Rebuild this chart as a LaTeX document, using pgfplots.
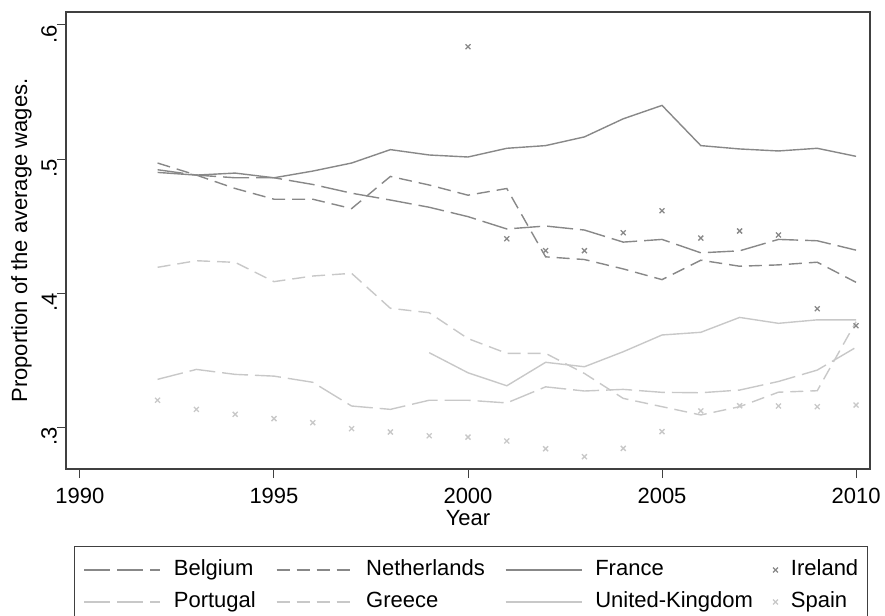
\documentclass[border=0pt]{standalone}
\usepackage{fontspec}
\setmainfont{Liberation Sans}
\usepackage{pgfplots}
\pgfplotsset{compat=1.18}

\definecolor{darkg}{RGB}{136,136,136}
\definecolor{lightg}{RGB}{200,200,200}
\definecolor{framec}{RGB}{64,64,64}

\pgfplotsset{
  lineleg/.style={legend image code/.code={\draw[##1] (0pt,0pt) -- (76pt,0pt);}},
  markleg/.style={legend image code/.code={\draw[##1] plot coordinates {(0pt,0pt)};}},
}

\pgfplotstableread{
year  bel    ned    fra    por    gre    spa
1992  0.492  0.497  0.490  0.3356 0.4192 0.320
1993  0.488  0.488  0.488  0.343  0.4241 0.3132
1994  0.486  0.478  0.4895 0.3393 0.4229 0.3095
1995  0.486  0.470  0.486  0.338  0.4085 0.3063
1996  0.481  0.470  0.491  0.3334 0.4127 0.3033
1997  0.4745 0.463  0.497  0.3157 0.4147 0.2988
1998  0.4694 0.487  0.507  0.3132 0.3886 0.2963
1999  0.464  0.4806 0.503  0.320  0.3853 0.2935
2000  0.457  0.473  0.5015 0.320  0.366  0.2925
2001  0.4478 0.478  0.508  0.318  0.355  0.2896
2002  0.450  0.427  0.510  0.330  0.355  0.2838
2003  0.447  0.425  0.5165 0.3269 0.340  0.2779
2004  0.438  0.418  0.530  0.3281 0.3214 0.2841
2005  0.440  0.410  0.540  0.3259 0.3152 0.2966
2006  0.430  0.4245 0.510  0.3256 0.309  0.312
2007  0.4315 0.420  0.5075 0.3276 0.3152 0.3159
2008  0.440  0.421  0.506  0.334  0.326  0.3157
2009  0.439  0.423  0.508  0.3425 0.3271 0.3152
2010  0.432  0.408  0.502  0.3595 0.3786 0.3164
}\mainT

\pgfplotstableread{
year  irl    uk
1999  nan    0.3555
2000  0.5838 0.3405
2001  0.4405 0.3308
2002  0.4316 0.3483
2003  0.4316 0.345
2004  0.445  0.3562
2005  0.4614 0.3687
2006  0.441  0.3707
2007  0.4463 0.3818
2008  0.4433 0.3774
2009  0.3883 0.380
2010  0.3756 0.380
}\lateT

\begin{document}
\begin{tikzpicture}[font=\fontsize{22}{26}\selectfont]
\begin{axis}[
  scale only axis,
  width=804pt, height=457pt,
  xmin=1989.64, xmax=2010.36,
  ymin=0.2687, ymax=0.6097,
  xtick={1990,1995,2000,2005,2010},
  xticklabels={1990,1995,2000,2005,2010},
  ytick={0.3,0.4,0.5,0.6},
  yticklabels={.3,.4,.5,.6},
  tick align=outside,
  major tick length=9pt,
  xtick pos=bottom, ytick pos=left,
  tick style={framec, line width=1pt},
  axis line style={framec, line width=1.2pt},
  xticklabel style={anchor=north, inner sep=0pt, yshift=-10pt},
  yticklabel style={rotate=90, anchor=south, inner sep=0pt, xshift=-9pt},
  xlabel={Year},
  ylabel={Proportion of the average wages.},
  xlabel style={at={(axis description cs:0.5,0)}, anchor=north, inner sep=0pt, yshift=-41pt},
  ylabel style={at={(axis description cs:0,0.5)}, anchor=south, inner sep=0pt, yshift=34pt},
  unbounded coords=jump,
  every axis plot/.append style={line width=1.4pt},
  legend columns=4,
  legend cell align=left,
  legend style={
    at={(axis description cs:0,0)}, anchor=north west,
    xshift=8pt, yshift=-77pt,
    draw=framec, line width=1pt,
    inner xsep=9pt, inner ysep=13pt,
    nodes={inner sep=0pt, text height=16pt, text depth=5pt},
    /tikz/row sep=11pt,
    /tikz/every odd column/.style={column sep=13pt},
    /tikz/every even column/.style={column sep=20pt},
  },
  lineleg,
]
\addplot[darkg, dash pattern=on 26pt off 7pt] table[x=year, y=bel] {\mainT};
\addlegendentry{Belgium}
\addplot[darkg, dash pattern=on 13pt off 7pt] table[x=year, y=ned] {\mainT};
\addlegendentry{Netherlands}
\addplot[darkg] table[x=year, y=fra] {\mainT};
\addlegendentry{France}
\addplot[darkg, only marks, mark=x, mark size=3.5pt, mark options={line width=1.3pt}, markleg]
  table[x=year, y=irl] {\lateT};
\addlegendentry{Ireland}
\addplot[lightg, dash pattern=on 26pt off 7pt] table[x=year, y=por] {\mainT};
\addlegendentry{Portugal}
\addplot[lightg, dash pattern=on 13pt off 7pt] table[x=year, y=gre] {\mainT};
\addlegendentry{Greece}
\addplot[lightg] table[x=year, y=uk] {\lateT};
\addlegendentry{United-Kingdom}
\addplot[lightg, only marks, mark=x, mark size=3.5pt, mark options={line width=1.3pt}, markleg]
  table[x=year, y=spa] {\mainT};
\addlegendentry{Spain}
\end{axis}
\pgfresetboundingbox
\useasboundingbox (-66pt,-146pt) rectangle (819pt,469pt);
\end{tikzpicture}
\end{document}
